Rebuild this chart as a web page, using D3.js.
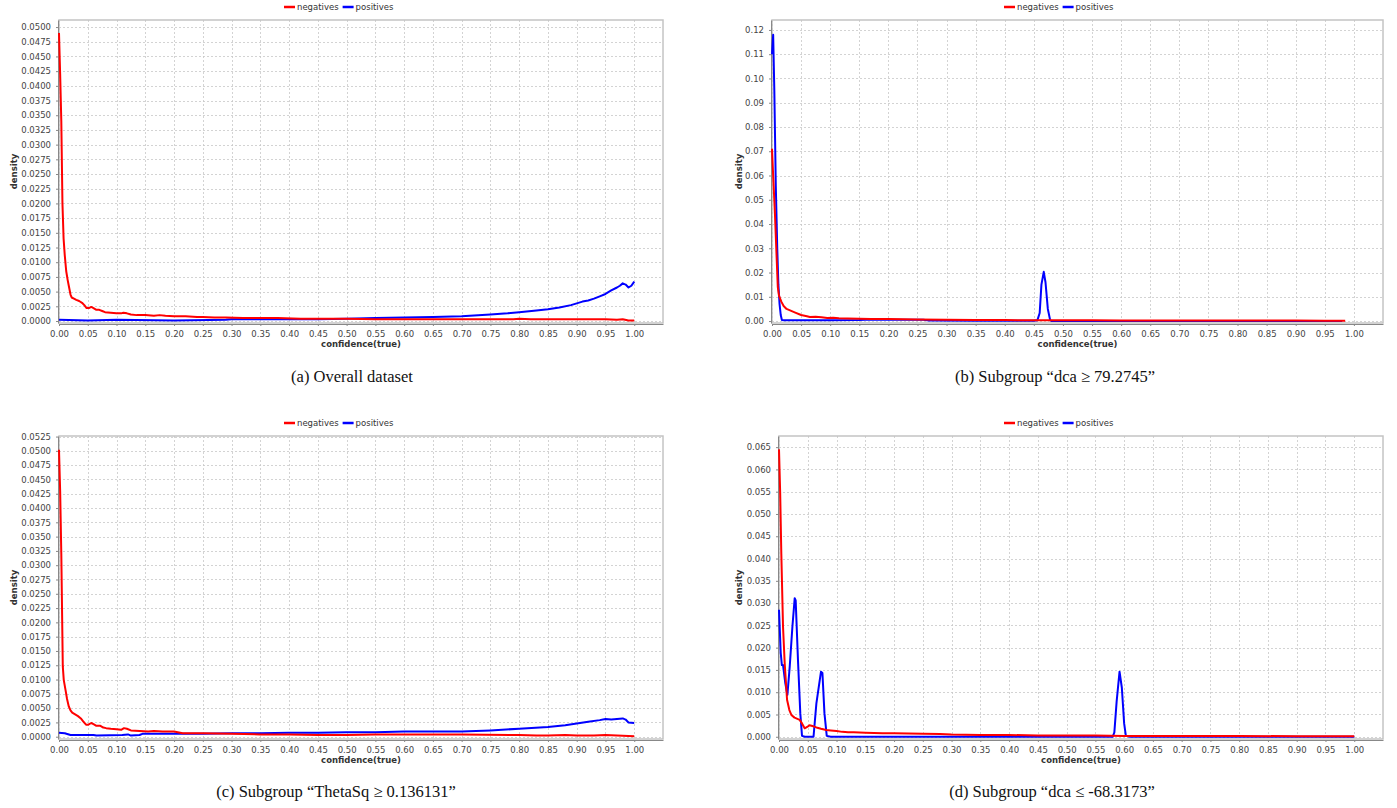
<!DOCTYPE html>
<html>
<head>
<meta charset="utf-8">
<script src="https://cdn.jsdelivr.net/npm/d3@7"></script>
<style>
  body { margin: 0; background: #fff; }
  svg { display: block; }
</style>
</head>
<body>
<div id="chart"></div>
<script>
// density curves, [confidence, density]
const negA = [[0.000,0.0490],[0.002,0.0420],[0.004,0.0340],[0.006,0.0200],[0.008,0.0140],[0.010,0.0112],[0.0125,0.0085],[0.015,0.0070],[0.017,0.0060],[0.020,0.0045],[0.022,0.0040],[0.026,0.0038],[0.030,0.0036],[0.035,0.0034],[0.040,0.0031],[0.044,0.0027],[0.048,0.0022],[0.052,0.0022],[0.056,0.0024],[0.060,0.0022],[0.065,0.0019],[0.070,0.0019],[0.075,0.0017],[0.080,0.0015],[0.090,0.0014],[0.100,0.0013],[0.108,0.0013],[0.112,0.0014],[0.118,0.0013],[0.125,0.0011],[0.135,0.0010],[0.150,0.0010],[0.165,0.0009],[0.175,0.0010],[0.185,0.0009],[0.200,0.0008],[0.220,0.0008],[0.240,0.0007],[0.250,0.0007],[0.270,0.0006],[0.290,0.0006],[0.320,0.0005],[0.350,0.0005],[0.380,0.0005],[0.420,0.0004],[0.460,0.0004],[0.500,0.0004],[0.550,0.0003],[0.600,0.0003],[0.650,0.0003],[0.700,0.0003],[0.750,0.0003],[0.790,0.0003],[0.800,0.0004],[0.820,0.0003],[0.900,0.0003],[0.950,0.0003],[0.970,0.0002],[0.980,0.0003],[0.990,0.0001],[1.000,0.0001]];
const posA = [[0.000,0.0002],[0.050,0.0001],[0.100,0.0002],[0.200,0.0001],[0.290,0.0002],[0.300,0.0003],[0.350,0.0003],[0.450,0.0003],[0.500,0.0004],[0.550,0.0005],[0.600,0.0006],[0.650,0.0007],[0.700,0.0008],[0.750,0.0011],[0.780,0.0013],[0.800,0.0015],[0.830,0.0018],[0.850,0.0020],[0.870,0.0023],[0.890,0.0027],[0.900,0.0030],[0.910,0.0033],[0.920,0.0035],[0.930,0.0038],[0.940,0.0042],[0.950,0.0046],[0.960,0.0052],[0.970,0.0057],[0.975,0.0060],[0.980,0.0064],[0.985,0.0062],[0.990,0.0057],[0.995,0.0060],[1.000,0.0067]];

const negB = [[0.000,0.0710],[0.002,0.0600],[0.005,0.0445],[0.008,0.0260],[0.010,0.0140],[0.012,0.0105],[0.016,0.0080],[0.020,0.0062],[0.025,0.0050],[0.030,0.0045],[0.040,0.0035],[0.050,0.0025],[0.060,0.0020],[0.065,0.0017],[0.075,0.0018],[0.085,0.0016],[0.095,0.0013],[0.105,0.0014],[0.115,0.0012],[0.130,0.0011],[0.150,0.0010],[0.170,0.0009],[0.200,0.0008],[0.250,0.0006],[0.300,0.0005],[0.350,0.0004],[0.400,0.0004],[0.450,0.0003],[0.500,0.0003],[0.550,0.0003],[0.600,0.0002],[0.700,0.0002],[0.800,0.0002],[0.900,0.0002],[0.950,0.0001],[0.985,0.0001]];
const posB = [[0.000,0.1100],[0.002,0.1180],[0.004,0.0950],[0.0065,0.0560],[0.009,0.0300],[0.011,0.0150],[0.013,0.0070],[0.015,0.0025],[0.017,0.0004],[0.020,0.0003],[0.050,0.0003],[0.100,0.0003],[0.150,0.0004],[0.160,0.0005],[0.260,0.0005],[0.270,0.0002],[0.350,0.0001],[0.450,0.0001],[0.456,0.0003],[0.460,0.0033],[0.463,0.0150],[0.467,0.0203],[0.470,0.0160],[0.474,0.0050],[0.478,0.0004],[0.480,0.0000],[0.980,0.0000]];

const negC = [[0.000,0.0502],[0.002,0.0430],[0.004,0.0320],[0.0066,0.0123],[0.0083,0.0099],[0.0113,0.0082],[0.014,0.0066],[0.017,0.0053],[0.020,0.0046],[0.023,0.0042],[0.028,0.0039],[0.033,0.0036],[0.038,0.0032],[0.042,0.0027],[0.047,0.0021],[0.051,0.0021],[0.056,0.0024],[0.060,0.0022],[0.065,0.0019],[0.072,0.0019],[0.077,0.0016],[0.082,0.0015],[0.090,0.0014],[0.100,0.0013],[0.108,0.0012],[0.113,0.0015],[0.118,0.0014],[0.125,0.0011],[0.140,0.0010],[0.155,0.0009],[0.165,0.0010],[0.180,0.0009],[0.200,0.0009],[0.215,0.0006],[0.250,0.0006],[0.300,0.0005],[0.350,0.0004],[0.400,0.0004],[0.450,0.0003],[0.500,0.0003],[0.550,0.0004],[0.600,0.0004],[0.700,0.0004],[0.800,0.0003],[0.830,0.0002],[0.850,0.0002],[0.880,0.0003],[0.900,0.0002],[0.930,0.0002],[0.950,0.0003],[0.970,0.0002],[1.000,0.0001]];
const posC = [[0.000,0.0007],[0.010,0.0006],[0.020,0.0003],[0.060,0.0003],[0.065,0.0002],[0.110,0.0003],[0.120,0.0004],[0.125,0.0002],[0.140,0.0003],[0.145,0.0005],[0.200,0.0005],[0.250,0.0005],[0.300,0.0006],[0.350,0.0006],[0.400,0.0007],[0.450,0.0007],[0.500,0.0008],[0.550,0.0008],[0.600,0.0009],[0.650,0.0009],[0.700,0.0009],[0.750,0.0011],[0.800,0.0014],[0.850,0.0017],[0.880,0.0020],[0.900,0.0023],[0.920,0.0026],[0.940,0.0029],[0.950,0.0031],[0.960,0.0030],[0.970,0.0031],[0.980,0.0032],[0.985,0.0030],[0.990,0.0025],[1.000,0.0024]];

const negD = [[0.000,0.0645],[0.002,0.0550],[0.004,0.0412],[0.007,0.0247],[0.0099,0.0165],[0.014,0.0083],[0.018,0.0060],[0.0215,0.0049],[0.027,0.0043],[0.036,0.0038],[0.040,0.0030],[0.0446,0.0019],[0.049,0.0022],[0.053,0.0026],[0.058,0.0024],[0.065,0.0021],[0.073,0.0018],[0.082,0.0015],[0.090,0.0014],[0.100,0.0013],[0.110,0.0011],[0.120,0.0010],[0.130,0.0010],[0.150,0.0009],[0.180,0.0008],[0.200,0.0008],[0.250,0.0007],[0.280,0.0006],[0.300,0.0005],[0.350,0.0004],[0.400,0.0004],[0.450,0.0003],[0.500,0.0003],[0.550,0.0003],[0.600,0.0002],[0.700,0.0002],[0.800,0.0002],[0.900,0.0001],[1.000,0.0001]];
const posD = [[0.000,0.0285],[0.003,0.0188],[0.005,0.0161],[0.007,0.0161],[0.011,0.0120],[0.0146,0.0094],[0.0186,0.0157],[0.0233,0.0247],[0.0273,0.0311],[0.029,0.0306],[0.033,0.0172],[0.037,0.0053],[0.040,0.0002],[0.045,0.0000],[0.060,0.0000],[0.065,0.0075],[0.073,0.0146],[0.0755,0.0143],[0.079,0.0053],[0.083,0.0002],[0.090,0.0000],[0.580,0.0000],[0.583,0.0010],[0.587,0.0080],[0.592,0.0146],[0.596,0.0110],[0.600,0.0030],[0.603,0.0002],[0.610,0.0000],[1.000,0.0000]];

const xTicks = [0.00,0.05,0.10,0.15,0.20,0.25,0.30,0.35,0.40,0.45,0.50,0.55,0.60,0.65,0.70,0.75,0.80,0.85,0.90,0.95,1.00];
const yTicksA = [0,0.0025,0.005,0.0075,0.01,0.0125,0.015,0.0175,0.02,0.0225,0.025,0.0275,0.03,0.0325,0.035,0.0375,0.04,0.0425,0.045,0.0475,0.05];
const yTicksB = [0,0.01,0.02,0.03,0.04,0.05,0.06,0.07,0.08,0.09,0.10,0.11,0.12];
const yTicksC = [0,0.0025,0.005,0.0075,0.01,0.0125,0.015,0.0175,0.02,0.0225,0.025,0.0275,0.03,0.0325,0.035,0.0375,0.04,0.0425,0.045,0.0475,0.05,0.0525];
const yTicksD = [0,0.005,0.01,0.015,0.02,0.025,0.03,0.035,0.04,0.045,0.05,0.055,0.06,0.065];

const seriesNames = ["negatives", "positives"];
const seriesColors = ["#ff0000", "#0000ff"];

const panels = [
  { neg: negA, pos: posA, yTicks: yTicksA, fmt: ".4f", yDom: [-0.00034, 0.0512],
    box: [59, 20, 663, 323], legendX: 335, yLabelX: 17,
    caption: "(a) Overall dataset", capX: 352, capY: 382 },
  { neg: negB, pos: posB, yTicks: yTicksB, fmt: ".2f", yDom: [-0.0008, 0.1241],
    box: [772, 20, 1383, 323], legendX: 1055, yLabelX: 742,
    caption: "(b) Subgroup \u201cdca \u2265 79.2745\u201d", capX: 1055, capY: 382 },
  { neg: negC, pos: posC, yTicks: yTicksC, fmt: ".4f", yDom: [-0.0004, 0.0526],
    box: [59, 436, 663, 739], legendX: 335, yLabelX: 17,
    caption: "(c) Subgroup \u201cThetaSq \u2265 0.136131\u201d", capX: 336, capY: 797 },
  { neg: negD, pos: posD, yTicks: yTicksD, fmt: ".3f", yDom: [-0.0005, 0.0675],
    box: [779, 436, 1383, 739], legendX: 1055, yLabelX: 742,
    caption: "(d) Subgroup \u201cdca \u2264 -68.3173\u201d", capX: 1052, capY: 797 }
];

const width = 1397, height = 808;
const svg = d3.select("#chart").append("svg")
  .attr("width", width).attr("height", height)
  .attr("font-family", "'DejaVu Sans', sans-serif");

panels.forEach(p => {
  const [l, t, r, b] = p.box;
  const x = d3.scaleLinear().domain([0, 1.05]).range([l, r]);
  const y = d3.scaleLinear().domain(p.yDom).range([b, t]);
  const g = svg.append("g");

  // grid
  g.append("g").selectAll("line").data(xTicks).join("line")
    .attr("x1", d => Math.round(x(d)) + 0.5).attr("x2", d => Math.round(x(d)) + 0.5)
    .attr("y1", t).attr("y2", b)
    .attr("stroke", "#c8c8c8").attr("stroke-width", 0.8).attr("stroke-dasharray", "2,2");
  g.append("g").selectAll("line").data(p.yTicks).join("line")
    .attr("x1", l).attr("x2", r)
    .attr("y1", d => Math.round(y(d)) + 0.5).attr("y2", d => Math.round(y(d)) + 0.5)
    .attr("stroke", "#c8c8c8").attr("stroke-width", 0.8).attr("stroke-dasharray", "2,2");

  // plot outline
  g.append("rect").attr("x", l).attr("y", t).attr("width", r - l).attr("height", b - t)
    .attr("fill", "none").attr("stroke", "#c4c4c4").attr("stroke-width", 1.5);

  // axes
  const xAxis = g.append("g").attr("transform", `translate(0,${b + 1})`)
    .call(d3.axisBottom(x).tickValues(xTicks).tickFormat(d3.format(".2f")).tickSize(2).tickSizeOuter(0));
  const yAxis = g.append("g").attr("transform", `translate(${l - 1},0)`)
    .call(d3.axisLeft(y).tickValues(p.yTicks).tickFormat(d3.format(p.fmt)).tickSize(2).tickSizeOuter(0));
  [xAxis, yAxis].forEach(a => {
    a.select(".domain").attr("stroke", "#888");
    a.selectAll(".tick line").attr("stroke", "#888");
    a.selectAll("text").attr("fill", "#444").attr("font-size", "8.5px")
      .attr("font-family", "'DejaVu Sans', sans-serif");
  });
  xAxis.selectAll("text").attr("dy", "0.9em");
  yAxis.selectAll("text").attr("dx", "-2px");

  // curves, positives underneath negatives
  const line = d3.line().x(d => x(d[0])).y(d => y(d[1]));
  [p.pos, p.neg].forEach((s, i) => {
    g.append("path").datum(s).attr("d", line)
      .attr("fill", "none").attr("stroke", seriesColors[1 - i])
      .attr("stroke-width", 2).attr("stroke-linejoin", "round");
  });

  // axis titles
  g.append("text").attr("x", (l + r) / 2).attr("y", b + 24)
    .attr("text-anchor", "middle").attr("font-size", "8.5px").attr("font-weight", "bold")
    .attr("fill", "#333").text("confidence(true)");
  g.append("text").attr("transform", `translate(${p.yLabelX},${(t + b) / 2}) rotate(-90)`)
    .attr("text-anchor", "middle").attr("font-size", "8.5px").attr("font-weight", "bold")
    .attr("fill", "#333").text("density");

  // legend
  const lg = g.append("g").attr("transform", `translate(${p.legendX - 51},${t - 13})`);
  let lx = 0;
  seriesNames.forEach((name, i) => {
    lg.append("line").attr("x1", lx).attr("x2", lx + 11).attr("y1", 0).attr("y2", 0)
      .attr("stroke", seriesColors[i]).attr("stroke-width", 2.5);
    const txt = lg.append("text").attr("x", lx + 13).attr("y", 3)
      .attr("font-size", "8.5px").attr("fill", "#333").text(name);
    lx += 13 + txt.node().getComputedTextLength() + 4;
  });

  // caption
  svg.append("text").attr("x", p.capX).attr("y", p.capY)
    .attr("text-anchor", "middle").attr("font-family", "'Liberation Serif', serif")
    .attr("font-size", "16.5px").attr("fill", "#111").text(p.caption);
});
</script>
</body>
</html>
